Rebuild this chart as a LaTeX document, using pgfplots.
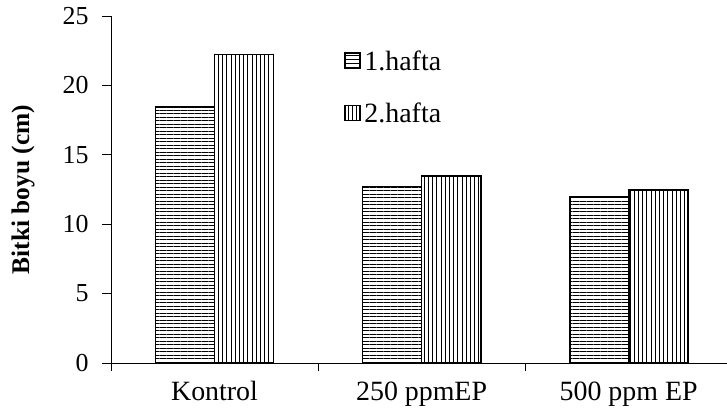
\documentclass[border=0pt]{standalone}
\usepackage{pgfplots}
\pgfplotsset{compat=1.18}
\usetikzlibrary{patterns.meta}
\usepackage{fontspec}
\setmainfont{Liberation Serif}

\begin{document}
\begin{tikzpicture}
\begin{axis}[
  scale only axis, width=616bp, height=347bp,
  ybar=0pt, bar width=0.285,
  xmin=-0.5, xmax=2.475, ymin=0, ymax=25,
  axis x line=bottom, axis y line=left,
  axis line style={-, line width=0.8bp},
  xtick={0,1,2},
  xticklabels={Kontrol, 250 ppmEP, 500 ppm EP},
  minor xtick={-0.5,0.5,1.5},
  ytick={0,5,...,25},
  tick align=outside,
  major tick length=9bp, minor tick length=8bp,
  major x tick style={draw=none},
  tick style={black, line width=0.8bp},
  /pgf/number format/assume math mode=true,
  yticklabel style={font=\fontsize{26}{31}\selectfont, xshift=-10bp},
  xticklabel style={font=\fontsize{28}{33}\selectfont, yshift=-6bp},
  ylabel={\bfseries Bitki boyu (cm)},
  ylabel style={at={(axis description cs:-0.1429,0.5)}, anchor=center,
    font=\fontsize{25.5}{30}\selectfont},
  legend style={at={(axis description cs:0.374,0.912)}, anchor=north west,
    draw=none, fill=none, row sep=27bp,
    font=\fontsize{28}{33}\selectfont,
    /tikz/every odd column/.append style={column sep=2bp}},
  legend cell align=left,
]
\coordinate (O) at (rel axis cs:0,0);
\addplot[draw=black, line width=1.8bp,
  pattern={Lines[angle=0,distance=3.5bp,line width=0.9bp]}, pattern color=black,
  legend image code/.code={\draw[draw=black, line width=1.8bp,
    pattern={Lines[angle=0,distance=4bp,line width=0.9bp]}, pattern color=black]
    (0bp,-7bp) rectangle (15bp,8bp);}]
  coordinates {(0,18.45) (1,12.72) (2,11.96)};
\addlegendentry{1.hafta}
\addplot[draw=black, line width=1.8bp,
  pattern={Lines[angle=90,distance=4.2bp,line width=0.9bp]}, pattern color=black,
  legend image code/.code={\draw[draw=black, line width=1.8bp,
    pattern={Lines[angle=90,distance=4bp,line width=0.9bp]}, pattern color=black]
    (0bp,-7bp) rectangle (15bp,8bp);}]
  coordinates {(0,22.22) (1,13.45) (2,12.46)};
\addlegendentry{2.hafta}
\end{axis}
\pgfresetboundingbox
\useasboundingbox ([shift={(-111bp,-48bp)}]O) rectangle ([shift={(616bp,363bp)}]O);
\end{tikzpicture}
\end{document}
